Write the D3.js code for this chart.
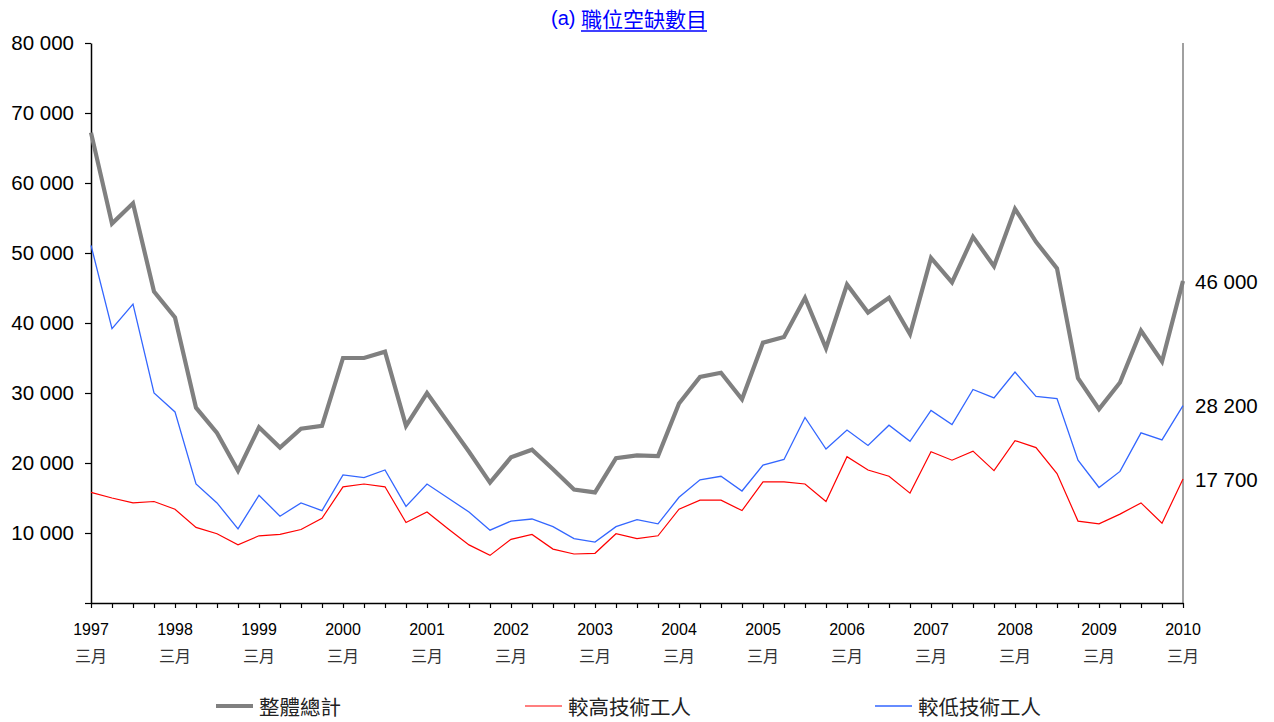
<!DOCTYPE html>
<html>
<head>
<meta charset="utf-8">
<script src="https://cdn.jsdelivr.net/npm/d3@7"></script>
<style>
  html, body { margin: 0; padding: 0; background: #fff; }
  svg { display: block; }
</style>
</head>
<body>
<svg id="chart" width="1274" height="722"></svg>
<script>
// Quarterly vacancies, March 1997 – March 2010
const years = [1997, 1998, 1999, 2000, 2001, 2002, 2003, 2004, 2005, 2006, 2007, 2008, 2009, 2010];
const monthLabel = "三月";

const total = [67200, 54200, 57100, 44500, 40800, 27900, 24300, 18900, 25100, 22200,
  24900, 25300, 35000, 35000, 35900, 25300, 30000, 25800, 21600, 17200,
  20800, 21900, 19100, 16200, 15800, 20700, 21100, 21000, 28500, 32300,
  32900, 29100, 37200, 38000, 43600, 36400, 45500, 41500, 43600, 38400,
  49300, 45800, 52300, 48100, 56300, 51600, 47800, 32100, 27700, 31500,
  38900, 34500, 46000];

const higherSkilled = [15800, 15000, 14300, 14500, 13400, 10800, 9900, 8300, 9600, 9800,
  10500, 12100, 16600, 17000, 16600, 11500, 13000, 10600, 8300, 6800,
  9100, 9800, 7700, 7000, 7100, 9900, 9200, 9600, 13400, 14700,
  14700, 13200, 17300, 17300, 17000, 14500, 20900, 19000, 18100, 15700,
  21600, 20400, 21700, 18900, 23200, 22200, 18500, 11700, 11300, 12700,
  14300, 11400, 17700];

const lowerSkilled = [51100, 39200, 42700, 30000, 27300, 17000, 14300, 10600, 15400, 12400,
  14300, 13200, 18300, 17900, 19000, 13800, 17000, 15000, 13000, 10400,
  11700, 12000, 10900, 9200, 8700, 10900, 11900, 11300, 15100, 17600,
  18100, 16000, 19700, 20500, 26500, 22000, 24700, 22500, 25400, 23100,
  27500, 25500, 30500, 29300, 33000, 29500, 29200, 20400, 16500, 18800,
  24300, 23300, 28200];

const yTicks = [0, 10000, 20000, 30000, 40000, 50000, 60000, 70000, 80000];
const seriesNames = ["整體總計", "較高技術工人", "較低技術工人"];
const titlePrefix = "(a) ";
const titleText = "職位空缺數目";

// quarter index: 0 = 1997 March, last = 2010 March
const quarters = d3.range(total.length);

const latin = "'Liberation Sans', Arial, sans-serif";
const cjk = "'Noto Sans CJK TC', 'Noto Sans CJK SC', sans-serif";

const svg = d3.select("#chart");
const plot = { left: 91, right: 1183, top: 43, bottom: 603 };

const x = d3.scaleLinear().domain([0, quarters.length - 1]).range([plot.left, plot.right]);
const y = d3.scaleLinear().domain([0, 80000]).range([plot.bottom, plot.top]);

const fmt = d3.formatLocale({ decimal: ".", thousands: " ", grouping: [3], currency: ["", ""] }).format(",d");

// Right-hand frame line
svg.append("line")
  .attr("x1", plot.right).attr("x2", plot.right)
  .attr("y1", plot.top).attr("y2", plot.bottom)
  .attr("stroke", "#808080").attr("stroke-width", 1.5);

// Y axis
const yAxis = svg.append("g")
  .attr("transform", `translate(${plot.left},0)`)
  .call(d3.axisLeft(y).tickValues(yTicks).tickSize(6).tickSizeOuter(0)
    .tickFormat(d => d === 0 ? "" : fmt(d)));
yAxis.select(".domain").attr("stroke", "#000").attr("stroke-width", 1.5);
yAxis.selectAll(".tick line").attr("stroke", "#000").attr("stroke-width", 1.2);
yAxis.selectAll(".tick text")
  .attr("x", -17)
  .attr("font-family", latin).attr("font-size", 20.5).attr("fill", "#000");

// X axis: a tick every quarter, labels each March
const xAxis = svg.append("g")
  .attr("transform", `translate(0,${plot.bottom})`)
  .call(d3.axisBottom(x).tickValues(quarters).tickSize(5).tickSizeOuter(0).tickFormat(""));
xAxis.select(".domain").attr("stroke", "#000").attr("stroke-width", 1.5);
xAxis.selectAll(".tick line").attr("stroke", "#000").attr("stroke-width", 1.2);

const yearLabels = svg.append("g");
years.forEach((yr, i) => {
  const xi = x(i * 4);
  yearLabels.append("text")
    .attr("x", xi).attr("y", 629)
    .attr("text-anchor", "middle").attr("dominant-baseline", "central")
    .attr("font-family", latin).attr("font-size", 16).attr("fill", "#000")
    .text(yr);
  yearLabels.append("text")
    .attr("x", xi).attr("y", 655)
    .attr("text-anchor", "middle").attr("dominant-baseline", "central")
    .attr("font-family", cjk).attr("font-size", 16).attr("fill", "#333")
    .text(monthLabel);
});

// Series lines
const series = [
  { name: seriesNames[0], values: total, color: "#808080", width: 4.2 },
  { name: seriesNames[1], values: higherSkilled, color: "#ff0000", width: 1.2 },
  { name: seriesNames[2], values: lowerSkilled, color: "#3366ff", width: 1.3 }
];

const line = d3.line().x((d, i) => x(i)).y(d => y(d));

svg.append("g").selectAll("path")
  .data(series.slice().reverse())
  .join("path")
  .attr("d", s => line(s.values))
  .attr("fill", "none")
  .attr("stroke", s => s.color)
  .attr("stroke-width", s => s.width)
  .attr("stroke-linejoin", "miter");

// Latest values at the right edge
svg.append("g").selectAll("text")
  .data(series)
  .join("text")
  .attr("x", plot.right + 12)
  .attr("y", s => y(s.values[s.values.length - 1]))
  .attr("dominant-baseline", "central")
  .attr("font-family", latin).attr("font-size", 20.5).attr("fill", "#000")
  .text(s => fmt(s.values[s.values.length - 1]));

// Title, with the heading words underlined
const title = svg.append("text")
  .attr("x", 551).attr("y", 18)
  .attr("dominant-baseline", "central")
  .attr("fill", "#0000ff");
const titleLead = title.append("tspan").attr("font-family", latin).attr("font-size", 20).text(titlePrefix);
title.append("tspan").attr("font-family", cjk).attr("font-size", 21).text(titleText);
{
  const bbox = title.node().getBBox();
  const leadLen = titleLead.node().getComputedTextLength();
  svg.append("line")
    .attr("x1", bbox.x + leadLen).attr("x2", bbox.x + bbox.width)
    .attr("y1", 31).attr("y2", 31)
    .attr("stroke", "#0000ff").attr("stroke-width", 1.5);
}

// Legend
const legendX = [216, 525, 875];
const legend = svg.append("g");
series.forEach((s, i) => {
  const lx = legendX[i];
  legend.append("line")
    .attr("x1", lx).attr("x2", lx + 37)
    .attr("y1", 706).attr("y2", 706)
    .attr("stroke", s.color).attr("stroke-width", s.width);
  legend.append("text")
    .attr("x", lx + 43).attr("y", 706)
    .attr("dominant-baseline", "central")
    .attr("font-family", cjk).attr("font-size", 20.5).attr("fill", "#222")
    .text(s.name);
});
</script>
</body>
</html>
